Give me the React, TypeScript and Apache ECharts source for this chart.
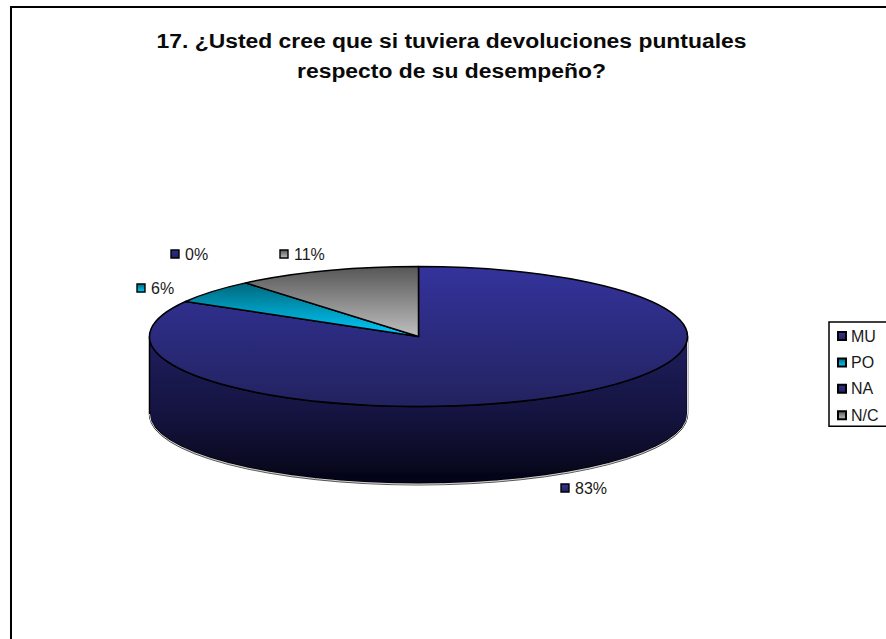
import React, { useEffect, useRef } from "react";
import * as echarts from "echarts";

const titleLines = [
  "17. ¿Usted cree que si tuviera devoluciones puntuales",
  "respecto de su desempeño?",
];
const categories = ["MU", "PO", "NA", "N/C"];
const counts = [15, 1, 0, 2];

const topColors = [
  ["#34339c", "#22225f"],
  ["#00687c", "#00ccff"],
  ["#2e2d8c", "#22225f"],
  ["#565656", "#c0c0c0"],
];
const labelAnchors = [
  [565, 488],
  [141, 288],
  [175, 254],
  [284, 254],
];

const PIE = { cx: 418.5, cy: 336.5, rx: 269, ry: 70, depth: 77 };
const FONT = "'Liberation Sans', Arial, sans-serif";

const grad = (a: string, b: string) =>
  new echarts.graphic.LinearGradient(0, 0, 0, 1, [
    { offset: 0, color: a },
    { offset: 1, color: b },
  ]);

const pt = (a: number, dy = 0) => [
  PIE.cx + PIE.rx * Math.sin(a),
  PIE.cy - PIE.ry * Math.cos(a) + dy,
];

const total = counts.reduce((s, v) => s + v, 0);

function makeRenderItem(idx: number) {
  return (_params: any, api: any) => {
    const value = api.value(0);
    const before = counts.slice(0, idx).reduce((s, v) => s + v, 0);
    const a0 = (before / total) * Math.PI * 2;
    const a1 = ((before + value) / total) * Math.PI * 2;
    const children: any[] = [];

    // front wall: the part of this slice's rim between 90° and 270°
    const f0 = Math.max(a0, Math.PI / 2);
    const f1 = Math.min(a1, (Math.PI * 3) / 2);
    if (f1 > f0) {
      const [x0, y0] = pt(f0);
      const [x1, y1] = pt(f1);
      const [bx0, by0] = pt(f0, PIE.depth);
      const [bx1, by1] = pt(f1, PIE.depth);
      const { rx, ry } = PIE;
      children.push({
        type: "path",
        shape: {
          pathData: `M${bx0} ${by0 + 1.5}A${rx} ${ry} 0 0 1 ${bx1} ${by1 + 1.5}`,
        },
        style: { fill: "none", stroke: "#555", lineWidth: 1 },
      });
      children.push({
        type: "path",
        shape: {
          pathData: `M${x0} ${y0}L${bx0} ${by0}A${rx} ${ry} 0 0 1 ${bx1} ${by1}L${x1} ${y1}A${rx} ${ry} 0 0 0 ${x0} ${y0}Z`,
        },
        style: {
          fill: new echarts.graphic.LinearGradient(0, 0, 0, 1, [
            { offset: 0, color: "#1f1e5e" },
            { offset: 0.55, color: "#14133f" },
            { offset: 0.92, color: "#08081c" },
            { offset: 0.93, color: "#03031a" },
            { offset: 1, color: "#03031a" },
          ]),
          stroke: "#000",
          lineWidth: 1.5,
        },
      });
      children.push({
        type: "path",
        shape: {
          pathData: `M${x0} ${y0 + 2}L${bx0} ${by0 + 0.5}A${rx} ${ry} 0 0 1 ${bx1} ${by1 + 0.5}`,
        },
        style: { fill: "none", stroke: "#d8d8d8", lineWidth: 1 },
      });
    }

    // top face
    if (a1 > a0) {
      const [sx, sy] = pt(a0);
      const [ex, ey] = pt(a1);
      const large = a1 - a0 > Math.PI ? 1 : 0;
      children.push({
        type: "path",
        shape: {
          pathData: `M${PIE.cx} ${PIE.cy}L${sx} ${sy}A${PIE.rx} ${PIE.ry} 0 ${large} 1 ${ex} ${ey}Z`,
        },
        style: {
          fill: grad(topColors[idx][0], topColors[idx][1]),
          stroke: "#000",
          lineWidth: 1.5,
          lineJoin: "round",
        },
      });
    }

    // value label with its square key
    const [lx, ly] = labelAnchors[idx];
    children.push({
      type: "rect",
      shape: { x: lx - 4, y: ly - 4, width: 8, height: 8 },
      style: {
        fill: grad(topColors[idx][0], topColors[idx][1]),
        stroke: "#000",
        lineWidth: 1.4,
      },
    });
    children.push({
      type: "text",
      style: {
        x: lx + 10,
        y: ly,
        text: `${Math.round((value / total) * 100)}%`,
        fill: "#1a1a1a",
        font: `16px ${FONT}`,
        verticalAlign: "middle",
      },
    });
    return { type: "group", children };
  };
}

export default function App() {
  const ref = useRef<HTMLDivElement>(null);
  useEffect(() => {
    document.body.style.margin = "0";
    document.body.style.overflow = "hidden";
    const chart = echarts.init(ref.current!, null, { renderer: "svg" });
    chart.setOption({
      animation: false,
      backgroundColor: "#fff",
      legend: {
        orient: "vertical",
        left: 829,
        top: 322,
        padding: [6, 30, 3, 8],
        itemGap: 10.4,
        itemWidth: 8,
        itemHeight: 8,
        icon: "rect",
        borderColor: "#000",
        borderWidth: 1.5,
        data: categories,
        textStyle: {
          fontFamily: FONT,
          fontSize: 16,
          color: "#1a1a1a",
        },
      },
      graphic: [
        {
          type: "rect",
          shape: { x: 11, y: 7, width: 1000, height: 1000 },
          style: { fill: "none", stroke: "#000", lineWidth: 2 },
          silent: true,
        },
        ...titleLines.map((text, i) => ({
          type: "text",
          x: 451.5,
          y: 41 + i * 30,
          scaleX: 1.09,
          style: {
            text,
            fill: "#0a0a0a",
            font: `bold 21px ${FONT}`,
            align: "center",
            verticalAlign: "middle",
          },
          silent: true,
        })),
      ],
      series: categories.map((name, i) => ({
        type: "custom",
        name,
        coordinateSystem: "none",
        renderItem: makeRenderItem(i),
        data: [[counts[i]]],
        itemStyle: {
          color: grad(topColors[i][0], topColors[i][1]),
          borderColor: "#000",
          borderWidth: 1.4,
        },
      })),
    });
    return () => chart.dispose();
  }, []);
  return <div ref={ref} style={{ width: 886, height: 639 }} />;
}
